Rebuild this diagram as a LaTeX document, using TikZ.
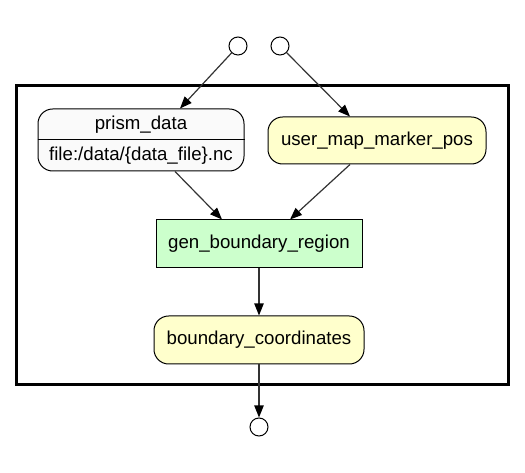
\documentclass[tikz,border=0pt]{standalone}
\usepackage{fontspec}
\setmainfont{Liberation Sans}
\usetikzlibrary{arrows.meta,calc}
\definecolor{nodeyellow}{HTML}{FFFFCC}
\definecolor{nodegreen}{HTML}{CCFFCC}
\definecolor{nodegray}{HTML}{FAFAFA}
\definecolor{edgegray}{HTML}{333333}
\tikzset{
  every node/.style={font=\fontsize{14pt}{16pt}\selectfont},
  port/.style={circle,draw=black,fill=white,line width=0.75pt,minimum size=13.5pt,inner sep=0pt},
  datanode/.style={draw=black,line width=0.75pt,rounded corners=11pt,inner sep=0pt},
  procnode/.style={draw=black,line width=0.75pt,fill=nodegreen,inner sep=0pt},
  flow/.style={draw=edgegray,line width=0.9pt,-{Triangle[length=9pt,width=7pt,fill=black,color=black]}},
  txt/.style={inner sep=0pt}
}
\begin{document}
\begin{tikzpicture}[x=0.75pt,y=-0.75pt]
\useasboundingbox (0,0) rectangle (525,473);
% outer box
\node[draw=black,line width=2.25pt,minimum width=492*0.75pt,minimum height=299*0.75pt,inner sep=0pt] (frame) at (262,235.5) {};
% ports
\node[port] (in1) at (238,46) {};
\node[port] (in2) at (280,46) {};
\node[port] (out) at (259,427) {};
% prism_data
\node[datanode,fill=nodegray,minimum width=206*0.75pt,minimum height=62*0.75pt] (prism) at (141,140) {};
\draw[line width=0.75pt] (prism.west) -- (prism.east);
\node[txt] (prismtitle) at (141,124.5) {prism\_data};
\node[txt] (prismfile) at (141,155.5) {file:/data/\{data\_file\}.nc};
% user_map_marker_pos
\node[datanode,fill=nodeyellow,minimum width=218*0.75pt,minimum height=47*0.75pt] (user) at (377,140.5) {user\_map\_marker\_pos};
% gen_boundary_region
\node[procnode,minimum width=206*0.75pt,minimum height=48*0.75pt] (gen) at (259,244) {gen\_boundary\_region};
% boundary_coordinates
\node[datanode,fill=nodeyellow,minimum width=210*0.75pt,minimum height=48*0.75pt] (bc) at (259,340) {boundary\_coordinates};
% edges
\draw[flow] (in1) -- ($(prism.north)+(39,0)$);
\draw[flow] (in2) -- ($(user.north)+(-27,0)$);
\draw[flow] ($(prism.south)+(34,0)$) -- ($(gen.north)+(-37,0)$);
\draw[flow] ($(user.south)+(-27,0)$) -- ($(gen.north)+(31,0)$);
\draw[flow] (gen) -- (bc);
\draw[flow] (bc) -- (out);
\end{tikzpicture}
\end{document}
